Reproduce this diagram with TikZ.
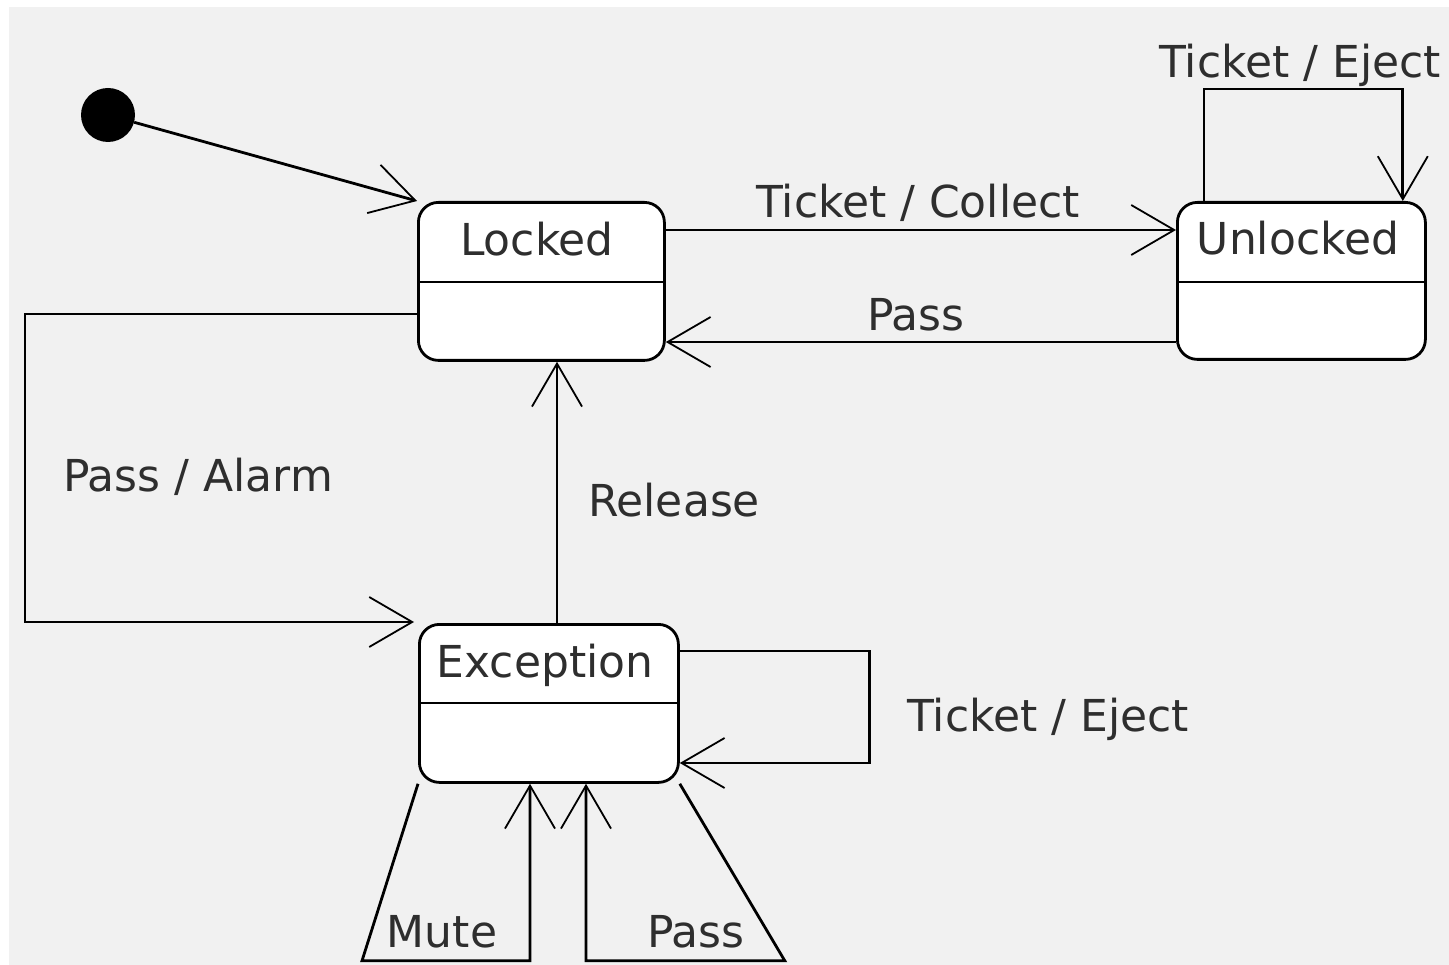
\documentclass[tikz,border=0pt]{standalone}
\usepackage{fontspec}
\setmainfont{DejaVu Sans}
\usetikzlibrary{arrows.meta,calc}

\definecolor{canvas}{HTML}{F1F1F1}
\definecolor{ink}{HTML}{2E2E2E}

\tikzset{
  state/.style={draw=black, fill=white, rounded corners=20pt, line width=2.8pt,
                inner sep=0pt, anchor=north west},
  edge/.style={draw=black, line width=2.8pt, line join=miter,
               -{Straight Barb[length=43pt,width=50pt,line width=1.8pt]}},
  lbl/.style={anchor=base, inner sep=0pt, text=ink,
              font=\fontsize{44}{52}\selectfont},
  divider/.style={draw=black, line width=2.8pt},
}

\begin{document}
\begin{tikzpicture}[x=1pt,y=-1pt]
  % page and canvas
  \useasboundingbox (0,0) rectangle (1449,965);
  \fill[white] (0,0) rectangle (1449,965);
  \fill[canvas] (9,7) rectangle (1449,965);

  % initial pseudo-state
  \node[circle, fill=black, minimum size=54pt, inner sep=0pt] (init) at (108,115) {};

  % states
  \node[state, minimum width=246pt, minimum height=158pt] (locked) at (417,201) {};
  \node[state, minimum width=248pt, minimum height=157pt] (unlocked) at (1176,201) {};
  \node[state, minimum width=259pt, minimum height=158pt] (exc) at (418,623) {};

  % compartment dividers
  \draw[divider] ($(locked.north west)+(0,81)$) -- ($(locked.north east)+(0,81)$);
  \draw[divider] ($(unlocked.north west)+(0,81)$) -- ($(unlocked.north east)+(0,81)$);
  \draw[divider] ($(exc.north west)+(0,80)$) -- ($(exc.north east)+(0,80)$);

  % state names
  \node[lbl] (lockedname) at (537,256) {Locked};
  \node[lbl] (unlockedname) at (1298,255) {Unlocked};
  \node[lbl] (excname) at (545,677) {Exception};

  % transitions
  \draw[edge] (init) -- (locked.north west);

  \draw[edge] ($(locked.north east)+(0,29)$) -- ($(unlocked.north west)+(0,29)$);
  \draw[edge] ($(unlocked.north west)+(0,141)$) -- ($(locked.north east)+(0,141)$);

  \draw[edge] ($(unlocked.north west)+(28,0)$) -- ++(0,-112)
              -| ($(unlocked.north east)+(-24,0)$);

  \draw[edge] ($(locked.north west)+(0,113)$) -- ++(-392,0)
              |- ($(exc.north west)+(-4,-1)$);

  \draw[edge] ($(exc.north west)+(139,0)$) -- ($(locked.south west)+(140,0)$);

  \draw[edge] ($(exc.north east)+(0,28)$) -- ++(190,0)
              |- ($(exc.north east)+(0,140)$);

  \draw[edge] (exc.south west) -- ++(-56,177)
              -| ($(exc.south west)+(112,0)$);
  \draw[edge] (exc.south east) -- ++(105,177)
              -| ($(exc.south west)+(168,0)$);

  % transition labels
  \node[lbl] (tcollect) at (918,218) {Ticket / Collect};
  \node[lbl] (passup) at (916,331) {Pass};
  \node[lbl] (ejectup) at (1300,78) {Ticket / Eject};
  \node[lbl] (alarm) at (198,492) {Pass / Alarm};
  \node[lbl] (release) at (674,516) {Release};
  \node[lbl] (ejectexc) at (1048,731) {Ticket / Eject};
  \node[lbl] (mute) at (442,947) {Mute};
  \node[lbl] (passdown) at (696,947) {Pass};
\end{tikzpicture}
\end{document}
